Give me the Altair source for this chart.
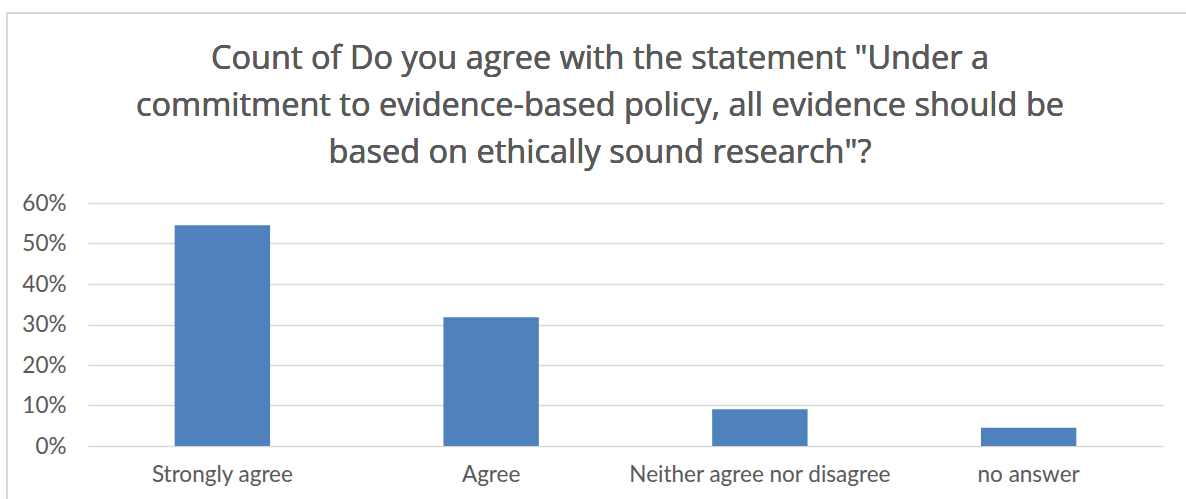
import altair as alt
import pandas as pd

# Survey responses (share of respondents)
categories = ["Strongly agree", "Agree", "Neither agree nor disagree", "no answer"]
shares = [0.545, 0.318, 0.091, 0.045]

title_lines = [
    'Count of Do you agree with the statement "Under a',
    'commitment to evidence-based policy, all evidence should be',
    'based on ethically sound research"?',
]

df = pd.DataFrame({"answer": categories, "share": shares})

FONT = "Lato"
TITLE_FONT = "Open Sans"
TEXT = "#595959"
GRID = "#d9d9d9"

bars = alt.Chart(df).mark_bar(color="#4f81bd").encode(
    x=alt.X(
        "answer:N",
        sort=categories,
        scale=alt.Scale(paddingInner=0.645, paddingOuter=0.3225),
        axis=alt.Axis(
            title=None, labelAngle=0, labelFont=FONT, labelFontSize=22.5,
            labelFontWeight="normal", labelColor=TEXT, labelPadding=17,
            labelLimit=400, ticks=False, domain=False,
        ),
    ),
    y=alt.Y(
        "share:Q",
        scale=alt.Scale(domain=[0, 0.6], nice=False),
        axis=alt.Axis(
            title=None, format=".0%", values=[0, .1, .2, .3, .4, .5, .6],
            labelFont=FONT, labelFontSize=22.5, labelFontWeight="normal",
            labelColor=TEXT, labelPadding=22, ticks=False, domain=False,
            gridColor=GRID, gridWidth=1.5,
        ),
    ),
)

# Outer chart frame
frame = alt.Chart(df).mark_rect(
    fill=None, stroke=GRID, strokeWidth=2, clip=False
).encode(
    x=alt.value(-81), x2=alt.value(1110),
    y=alt.value(-190), y2=alt.value(310),
)

# Three-line chart title
title = alt.Chart(df).mark_text(
    text=title_lines, font=TITLE_FONT, fontSize=32.5, fontWeight="normal",
    color=TEXT, lineHeight=47, align="center", baseline="alphabetic",
).encode(x=alt.value(512), y=alt.value(-134))

chart = alt.layer(frame, bars, title).properties(
    width=1075,
    height=243,
    background="white",
    autosize=alt.AutoSizeParams(type="none"),
    padding={"left": 88, "top": 203, "right": 23, "bottom": 53},
).configure_view(stroke="transparent", strokeWidth=0)

chart.save("out.html", embed_options={"renderer": "svg", "actions": False})
